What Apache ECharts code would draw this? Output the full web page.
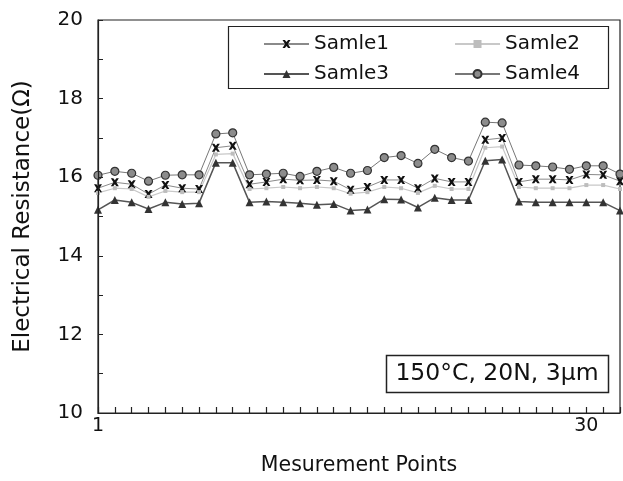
<!DOCTYPE html>
<html>
<head>
<meta charset="utf-8">
<script src="https://cdn.jsdelivr.net/npm/echarts@6/dist/echarts.min.js"></script>
<style>html,body{margin:0;padding:0;background:#fff}#c{width:623px;height:481px}</style>
</head>
<body>
<div id="c"></div>
<script>
const categories = [];
for (let i = 1; i <= 32; i++) categories.push(i);
const xLabelsShown = [1, 30];
const seriesNames = ['Samle1', 'Samle2', 'Samle3', 'Samle4'];
const samle1 = [15.72,15.87,15.82,15.57,15.80,15.72,15.70,16.75,16.80,15.82,15.88,15.95,15.92,15.93,15.90,15.68,15.75,15.93,15.93,15.72,15.97,15.88,15.88,16.95,17.00,15.88,15.95,15.95,15.93,16.07,16.06,15.90];
const samle2 = [15.60,15.72,15.70,15.50,15.65,15.62,15.62,16.58,16.60,15.70,15.72,15.75,15.72,15.75,15.72,15.58,15.62,15.75,15.72,15.60,15.78,15.70,15.70,16.75,16.78,15.75,15.72,15.72,15.72,15.80,15.80,15.70];
const samle3 = [15.17,15.42,15.36,15.19,15.36,15.32,15.34,16.37,16.37,15.36,15.38,15.36,15.34,15.30,15.32,15.15,15.18,15.44,15.43,15.23,15.48,15.42,15.42,16.42,16.45,15.38,15.36,15.36,15.36,15.36,15.36,15.15];
const samle4 = [16.05,16.15,16.10,15.90,16.05,16.06,16.06,17.10,17.13,16.06,16.08,16.10,16.02,16.15,16.25,16.10,16.17,16.50,16.55,16.35,16.71,16.50,16.41,17.40,17.38,16.31,16.29,16.26,16.20,16.29,16.29,16.08];
const yTickLabels = [10, 12, 14, 16, 18, 20];

const FONT = "'DejaVu Sans',sans-serif";
const xPath = 'path://M0,0L3,0L5,2.5L7,0L10,0L6.8,5L10,10L7,10L5,7.5L3,10L0,10L3.2,5Z';
const pairs = arr => categories.map((c, i) => [c, arr[i]]);

const chart = echarts.init(document.getElementById('c'), null, {renderer: 'canvas'});
const legendCommon = {
  left: 258, itemWidth: 45, itemHeight: 10, itemGap: 65,
  textStyle: {fontFamily: FONT, fontSize: 20, color: '#111'},
  selectedMode: false
};
chart.setOption({
  animation: false,
  backgroundColor: '#fff',
  grid: {left: 98, right: 1, top: 20, bottom: 67, show: true, borderColor: '#222', borderWidth: 1.2, z: 0},
  legend: [
    Object.assign({top: 29, data: ['Samle1', 'Samle2']}, legendCommon),
    Object.assign({top: 59, data: ['Samle3', 'Samle4']}, legendCommon)
  ],
  xAxis: {
    type: 'value', min: 1, max: 32, interval: 1, z: 5,
    name: 'Mesurement Points', nameLocation: 'middle', nameGap: 42,
    nameTextStyle: {fontFamily: FONT, fontSize: 20.5, color: '#111'},
    axisLine: {show: true, onZero: false, lineStyle: {color: '#222', width: 1.2}},
    axisTick: {show: true, inside: true, length: 6, lineStyle: {color: '#222', width: 1.2}},
    axisLabel: {
      formatter: v => (xLabelsShown.indexOf(v) >= 0 ? String(v) : ''),
      showMinLabel: true, showMaxLabel: true,
      fontFamily: FONT, fontSize: 19, color: '#111', margin: 4
    },
    splitLine: {show: false}
  },
  yAxis: {
    type: 'value', min: 10, max: 20, interval: 1, z: 5,
    name: 'Electrical Resistance(Ω)', nameLocation: 'middle', nameGap: 63,
    nameTextStyle: {fontFamily: FONT, fontSize: 23, color: '#111'},
    axisLine: {show: true, onZero: false, lineStyle: {color: '#222', width: 1.2}},
    axisTick: {show: true, inside: true, length: 5, lineStyle: {color: '#222'}},
    axisLabel: {
      formatter: v => (yTickLabels.indexOf(v) >= 0 ? String(v) : ''),
      fontFamily: FONT, fontSize: 20, color: '#111', margin: 15
    },
    splitLine: {show: false}
  },
  series: [
    {name: 'Samle1', type: 'line', data: pairs(samle1), symbol: xPath, symbolSize: 8,
     itemStyle: {color: '#111'}, lineStyle: {color: '#8a8a8a', width: 1}},
    {name: 'Samle2', type: 'line', data: pairs(samle2), symbol: 'rect', symbolSize: 4,
     itemStyle: {color: '#bdbdbd'}, lineStyle: {color: '#c8c8c8', width: 1.2}},
    {name: 'Samle3', type: 'line', data: pairs(samle3), symbol: 'triangle', symbolSize: 8,
     itemStyle: {color: '#333'}, lineStyle: {color: '#555', width: 1.5}},
    {name: 'Samle4', type: 'line', data: pairs(samle4), symbol: 'circle', symbolSize: 8,
     itemStyle: {color: '#8c8c8c', borderColor: '#333', borderWidth: 1.2}, lineStyle: {color: '#777', width: 1}}
  ],
  graphic: [
    {type: 'rect', shape: {x: 228.5, y: 26.5, width: 380, height: 62}, style: {fill: 'none', stroke: '#222', lineWidth: 1.2}, z: 10},
    {type: 'rect', shape: {x: 386.5, y: 355.5, width: 222, height: 37}, style: {fill: '#fff', stroke: '#222', lineWidth: 1.5}, z: 10},
    {type: 'text', x: 497, y: 374, z: 11, style: {text: '150°C, 20N, 3μm', fontFamily: FONT, fontSize: 23.5, fill: '#111', align: 'center', verticalAlign: 'middle'}}
  ]
});
</script>
</body>
</html>
